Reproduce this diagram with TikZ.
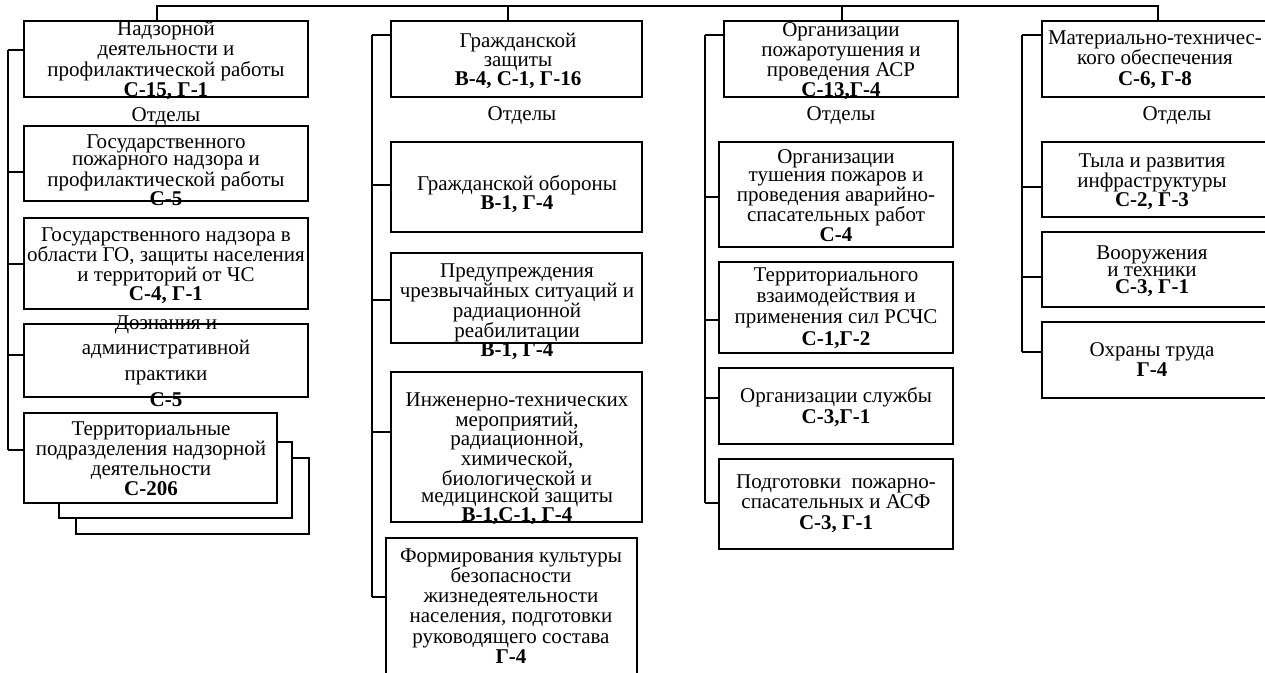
\documentclass[tikz,border=0pt]{standalone}
\usepackage{fontspec}
\setmainfont{Liberation Serif}
\newcommand\fs[1]{\fontsize{21}{#1}\selectfont}
\newcommand\tstr{\rule{0pt}{15pt}}
\begin{document}
\begin{tikzpicture}[x=1pt,y=-1pt,
  bx/.style={draw,line width=1.5pt,fill=white,inner sep=0pt,outer sep=0pt},
  txt/.style={align=center,inner sep=0pt,anchor=north},
  ln/.style={line width=1.5pt},
  lbl/.style={inner sep=0pt,anchor=north,font=\fs{21}}]
\clip (0,0) rectangle (1265,672);
\fill[white] (0,0) rectangle (1265,672);
\newcommand\bx[5]{\node[bx,minimum width={#3-#2},minimum height={#5-#4}] (#1) at ({(#2+#3)/2},{(#4+#5)/2}) {};}
\newcommand\tck[3]{\draw[ln] ([yshift=#2pt]#1.west) -- ([yshift=#2pt]#1.west -| #3);}
% column 1
\bx{b11}{24}{308}{21}{97}
\bx{b12}{24}{308}{126}{201}
\bx{b13}{24}{308}{218}{309}
\bx{b14}{24}{308}{324}{397}
\bx{b15c}{76}{309}{458}{534}
\bx{b15b}{59}{292}{442}{518}
\bx{b15}{24}{277}{413}{503}
% column 2
\bx{b21}{391}{642}{21}{97}
\bx{b22}{391}{642}{142}{232}
\bx{b23}{391}{642}{253}{343}
\bx{b24}{391}{642}{372}{522}
\bx{b25}{386}{637}{538}{690}
% column 3
\bx{b31}{724}{958}{21}{97}
\bx{b32}{719}{953}{142}{247}
\bx{b33}{719}{953}{262}{353}
\bx{b34}{719}{953}{368}{444}
\bx{b35}{719}{953}{459}{549}
% column 4
\bx{b41}{1042}{1285}{21}{97}
\bx{b42}{1042}{1285}{142}{217}
\bx{b43}{1042}{1285}{232}{307}
\bx{b44}{1042}{1285}{322}{398}
% top line
\coordinate (h1) at (157,6);
\coordinate (h2) at (508,6);
\coordinate (h3) at (842,6);
\coordinate (h4) at (1158,6);
\draw[ln] (h1 |- b11.north) -- (h1) -- (h4) -- (h4 |- b41.north);
\draw[ln] (h2) -- (h2 |- b21.north);
\draw[ln] (h3) -- (h3 |- b31.north);
% spines
\coordinate (s1a) at (8,50);   \coordinate (s1b) at (8,450);
\coordinate (s2a) at (372,35); \coordinate (s2b) at (372,597);
\coordinate (s3a) at (705,35); \coordinate (s3b) at (705,503);
\coordinate (s4a) at (1022,35);\coordinate (s4b) at (1022,352);
\draw[ln] (s1a) -- (s1b);
\draw[ln] (s2a) -- (s2b);
\draw[ln] (s3a) -- (s3b);
\draw[ln] (s4a) -- (s4b);
\tck{b11}{9}{s1a}
\tck{b12}{-8.5}{s1a}
\tck{b13}{-0.5}{s1a}
\tck{b14}{5.5}{s1a}
\tck{b15}{8}{s1a}
\tck{b21}{24}{s2a}
\tck{b22}{2}{s2a}
\tck{b23}{-2}{s2a}
\tck{b24}{15}{s2a}
\tck{b25}{17}{s2a}
\tck{b31}{24}{s3a}
\tck{b32}{-2.5}{s3a}
\tck{b33}{-12.5}{s3a}
\tck{b34}{8}{s3a}
\tck{b35}{1}{s3a}
\tck{b41}{24}{s4a}
\tck{b42}{-7.5}{s4a}
\tck{b43}{-7.5}{s4a}
\tck{b44}{8}{s4a}
% texts column 1
\node[txt,font=\fs{20.5}] (t11) at (166,20) {\tstr Надзорной\\деятельности и\\профилактической работы\\\textbf{С-15, Г-1}};
\node[lbl] (o1) at (166,106) {\tstr Отделы};
\node[txt,font=\fs{17.7}] (t12) at (166,133) {\tstr Государственного\\пожарного надзора и\\профилактической работы\\\textbf{С-5}};
\node[txt,font=\fs{18}] (t13) at (166,226) {\tstr Государственного надзора в\\области ГО, защиты населения\\и территорий от ЧС\\\textbf{С-4, Г-1}};
\node[txt,font=\fs{25.7}] (t14) at (166,314) {\tstr Дознания и\\административной\\практики\\\textbf{С-5}};
\node[txt,font=\fs{20}] (t15) at (151,420) {\tstr Территориальные\\подразделения надзорной\\деятельности\\\textbf{С-206}};
% texts column 2
\node[txt,font=\fs{19}] (t21) at (518,32) {\tstr Гражданской\\защиты\\\textbf{В-4, С-1, Г-16}};
\node[lbl] (o2) at (522,105) {\tstr Отделы};
\node[txt,font=\fs{17}] (t22) at (517,175) {\tstr Гражданской обороны\\\textbf{В-1, Г-4}};
\node[txt,font=\fs{17}] (t23) at (517,262) {\tstr Предупреждения\\чрезвычайных ситуаций и\\радиационной\\реабилитации\\\textbf{В-1, Г-4}};
\node[txt,font=\fs{17.6}] (t24) at (517,391) {\tstr Инженерно-технических\\мероприятий,\\радиационной,\\химической,\\биологической и\\медицинской защиты\\\textbf{В-1,С-1, Г-4}};
\node[txt,font=\fs{20.2}] (t25) at (511,547) {\tstr Формирования культуры\\безопасности\\жизнедеятельности\\населения, подготовки\\руководящего состава\\\textbf{Г-4}};
% texts column 3
\node[txt,font=\fs{20}] (t31) at (841,21) {\tstr Организации\\пожаротушения и\\проведения АСР\\\textbf{С-13,Г-4}};
\node[lbl] (o3) at (841,105) {\tstr Отделы};
\node[txt,font=\fs{18.3}] (t32) at (836,148) {\tstr Организации\\тушения пожаров и\\проведения аварийно-\\спасательных работ\\\textbf{С-4}};
\node[txt,font=\fs{21.3}] (t33) at (836,266) {\tstr Территориального\\взаимодействия и\\применения сил РСЧС\\\textbf{С-1,Г-2}};
\node[txt,font=\fs{21}] (t34) at (836,387) {\tstr Организации службы\\\textbf{С-3,Г-1}};
\node[txt,font=\fs{20.5}] (t35) at (836,473) {\tstr Подготовки~ пожарно-\\спасательных и АСФ\\\textbf{С-3, Г-1}};
% texts column 4
\node[txt,font=\fs{20.5}] (t41) at (1155,29) {\tstr Материально-техничес-\\кого обеспечения\\\textbf{С-6, Г-8}};
\node[lbl] (o4) at (1177,105) {\tstr Отделы};
\node[txt,font=\fs{17}] (t42) at (1152,152) {\tstr Тыла и развития\\инфраструктуры\\\textbf{С-2, Г-3}};
\node[txt,font=\fs{17}] (t43) at (1152,244) {\tstr Вооружения\\и техники\\\textbf{С-3, Г-1}};
\node[txt,font=\fs{20}] (t44) at (1152,341) {\tstr Охраны труда\\\textbf{Г-4}};
\end{tikzpicture}
\end{document}
